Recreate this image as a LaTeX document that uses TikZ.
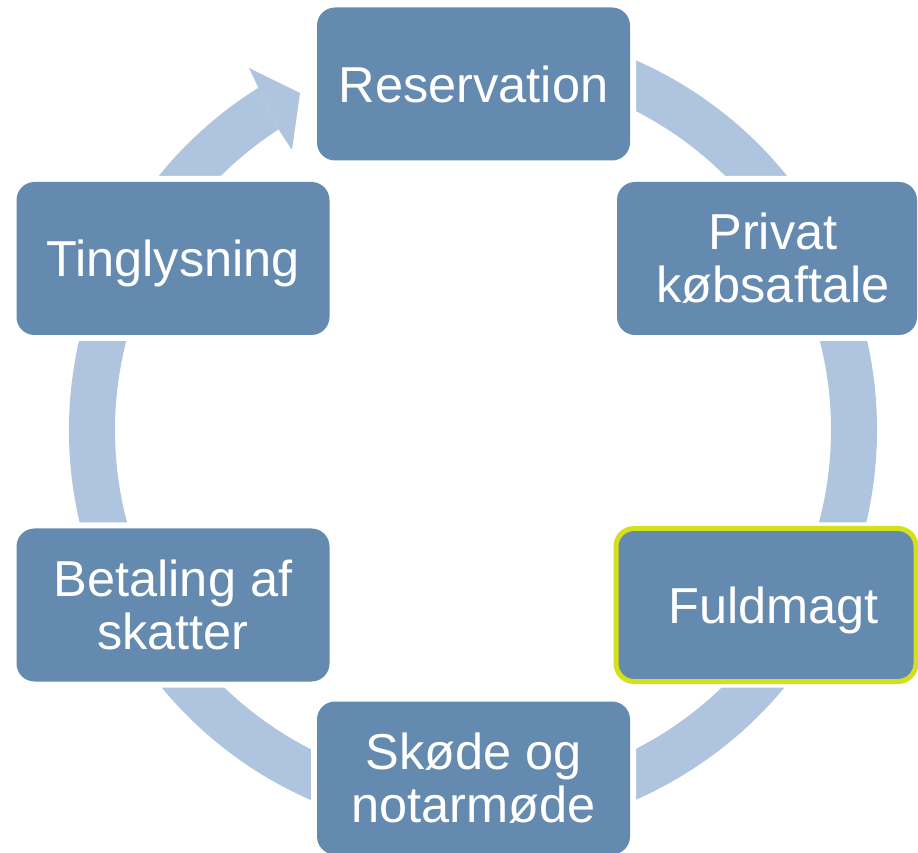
\documentclass[tikz,border=0pt]{standalone}
\usepackage{fontspec}
\setmainfont{Liberation Sans}
\definecolor{boxblue}{RGB}{101,138,175}
\definecolor{ringblue}{RGB}{175,196,222}
\definecolor{hlgreen}{RGB}{212,224,26}
\tikzset{
  cyclebox/.style={rectangle, rounded corners=18pt, fill=boxblue,
    preaction={draw=white, line width=12pt},
    minimum width=313pt, minimum height=153pt, inner sep=0pt, outer sep=0pt,
    text=white, align=center, font=\fontsize{50.5}{53}\selectfont},
  rightbox/.style={minimum width=300pt},
  oneline/.style={text height=36.2pt, text depth=0pt},
  ring/.style={fill=ringblue},
}
\begin{document}
\begin{tikzpicture}[x=1pt,y=1pt]
\useasboundingbox (0,0) rectangle (918,852);
\coordinate (C) at (473,422);
% ring band (one continuous arrow)
\fill[ring] ([shift={(122.1:404pt)}]C) arc[start angle=122.1, end angle=450, radius=404pt]
  -- ([shift={(450:358pt)}]C) arc[start angle=450, end angle=122.9, radius=358pt] -- cycle;
% arrow head
\coordinate (barbA) at (249,784);
\coordinate (tip) at (300,759);
\coordinate (barbB) at (292,702);
\fill[ring] ([shift={(122.1:404pt)}]C) -- (barbA) -- (tip) -- (barbB)
  -- ([shift={(122.9:358pt)}]C) -- cycle;
% boxes
\node[cyclebox, oneline] (res) at (473.5,768) {Reservation};
\node[cyclebox, rightbox] (priv) at (767,593.5) {\hspace*{12pt}Privat\\\hspace*{12pt}købsaftale};
\node[cyclebox, rightbox, oneline, draw=hlgreen, line width=5pt] (fuld) at (766,247) {\hspace*{15pt}Fuldmagt};
\node[cyclebox] (skode) at (473.5,74) {Skøde og\\notarmøde};
\node[cyclebox] (betal) at (173,247) {Betaling af\\skatter};
\node[cyclebox, oneline] (ting) at (173,593.5) {Tinglysning};
\end{tikzpicture}
\end{document}
